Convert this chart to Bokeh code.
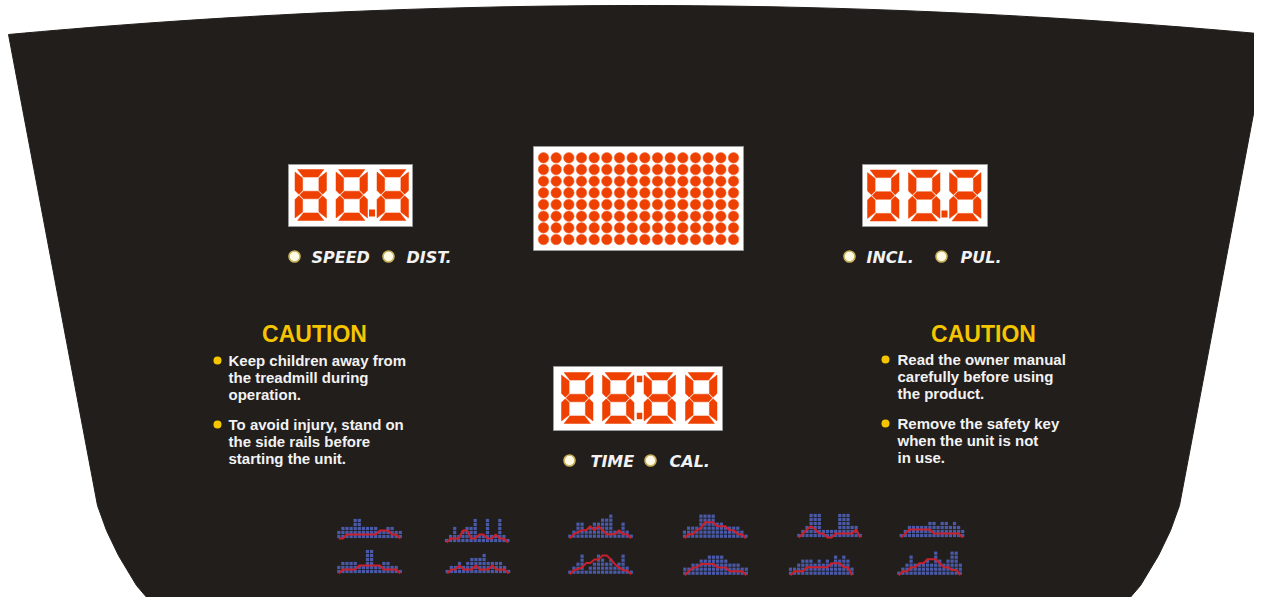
import numpy as np
from bokeh.plotting import figure
from bokeh.models import Range1d
from bokeh.core.properties import value
from bokeh.embed import file_html
from bokeh.resources import INLINE

# ---------------- data ----------------
speed_digits = "88.8"
incl_digits = "88.8"
time_digits = "88:88"
matrix_cols = 16
matrix_rows = 8
speed_labels = ["SPEED", "DIST."]
incl_labels = ["INCL.", "PUL."]
time_labels = ["TIME", "CAL."]
caution_title = "CAUTION"
caution_left = [["Keep children away from", "the treadmill during", "operation."],
                ["To avoid injury, stand on", "the side rails before", "starting the unit."]]
caution_right = [["Read the owner manual", "carefully before using", "the product."],
                 ["Remove the safety key", "when the unit is not", "in use."]]

# program profiles: column heights (blue dots) and red profile level
profile_bars = [
    [2, 3, 3, 3, 5, 5, 3, 3, 3, 3, 2, 2, 3, 3, 2, 2],
    [1, 2, 4, 2, 3, 4, 4, 6, 2, 2, 6, 2, 2, 6, 2, 1],
    [1, 2, 4, 4, 2, 3, 4, 4, 5, 5, 6, 2, 2, 4, 2, 1],
    [2, 3, 3, 3, 6, 6, 6, 6, 4, 4, 3, 3, 3, 3, 2, 1],
    [1, 2, 3, 6, 6, 6, 2, 2, 2, 2, 6, 6, 6, 3, 3, 1],
    [1, 2, 3, 3, 3, 3, 3, 4, 4, 3, 4, 4, 3, 4, 3, 2],
    [2, 3, 3, 3, 3, 2, 2, 6, 6, 2, 2, 3, 3, 2, 2, 1],
    [1, 2, 2, 3, 2, 3, 4, 4, 4, 5, 3, 3, 3, 3, 2, 1],
    [1, 2, 3, 5, 1, 2, 3, 5, 4, 3, 4, 2, 3, 5, 2, 1],
    [2, 2, 3, 3, 4, 4, 5, 5, 5, 5, 4, 3, 3, 3, 2, 2],
    [2, 2, 3, 4, 4, 4, 3, 4, 3, 4, 3, 5, 4, 5, 4, 2],
    [1, 2, 3, 5, 3, 3, 3, 4, 3, 6, 4, 3, 4, 6, 6, 3],
]
profile_lines = [
    [0.5, 0.5, 1.5, 1.5, 1.5, 1.5, 1.5, 1.5, 1.5, 1.5, 2.5, 2.5, 2.5, 1.5, 1.5, 0.5],
    [0.5, 1.5, 1.5, 1.5, 3.5, 3.5, 1.5, 1.5, 2.5, 2.5, 1.5, 1.5, 2.5, 1.5, 1.5, 0.5],
    [0.5, 1.5, 2.0, 2.5, 2.5, 3.5, 2.5, 3.5, 2.5, 1.5, 1.5, 1.5, 2.5, 1.5, 1.5, 0.5],
    [0.5, 1.5, 1.5, 2.5, 3.0, 4.5, 4.5, 4.5, 3.5, 3.5, 3.5, 2.5, 2.5, 1.5, 1.5, 0.5],
    [0.5, 1.5, 2.5, 3.3, 2.5, 1.5, 1.5, 0.5, 0.5, 1.5, 1.5, 1.5, 1.5, 1.5, 2.5, 0.5],
    [0.5, 1.5, 2.5, 2.5, 2.5, 2.5, 2.5, 2.5, 1.5, 1.5, 1.5, 1.5, 1.5, 1.5, 1.5, 0.5],
    [0.5, 1.5, 1.5, 1.5, 1.5, 2.5, 2.5, 2.5, 2.5, 2.5, 2.5, 1.5, 1.5, 1.5, 1.5, 0.5],
    [0.5, 1.5, 1.5, 2.5, 1.5, 1.5, 1.5, 2.5, 1.5, 1.5, 1.5, 2.5, 1.5, 1.5, 1.5, 0.5],
    [0.5, 1.5, 1.8, 2.2, 3.3, 3.3, 4.2, 4.2, 5.2, 5.2, 4.2, 3.0, 2.2, 1.5, 1.4, 0.5],
    [0.5, 1.5, 2.4, 2.5, 3.3, 3.3, 3.3, 3.3, 2.4, 2.4, 2.4, 1.5, 1.5, 1.5, 1.5, 0.5],
    [0.5, 1.5, 1.5, 1.5, 2.5, 2.5, 2.5, 2.5, 2.5, 2.5, 3.5, 3.5, 3.5, 2.5, 2.5, 0.5],
    [0.5, 1.5, 1.5, 2.5, 2.5, 3.5, 3.5, 4.5, 4.5, 4.5, 3.5, 2.5, 2.5, 1.8, 1.8, 0.5],
]

# ---------------- layout / style ----------------
PANEL = "#221e1c"
LED = "#ee4000"
WHITE_TXT = "#f2f2f2"
YELLOW = "#f5c500"

p = figure(width=1254, height=597, x_range=Range1d(0, 1254), y_range=Range1d(597, 0),
           output_backend="svg", toolbar_location=None, min_border=0)
p.axis.visible = False
p.grid.visible = False
p.outline_line_color = None
p.background_fill_color = "white"
p.border_fill_color = "white"

# panel shape
tx = np.linspace(8, 1268, 80)
ty = 5 + 29 * ((tx - 638) / 630) ** 2
left_edge_x = [97, 106, 118, 136, 160]
left_edge_y = [505, 530, 555, 585, 613]
px = list(tx) + [1276 - v for v in left_edge_x] + left_edge_x[::-1]
py = list(ty) + left_edge_y + left_edge_y[::-1]
p.patch(px, py, fill_color=PANEL, line_color=PANEL)


def digit_polys(x0, y0, w=31.5, h=51, t=7.6, g=0.8, b=1.8):
    ym = y0 + h / 2
    ht = t / 2
    left = [
        ([x0 + b + g, x0 + w - b - g, x0 + w - t - g, x0 + t + g], [y0, y0, y0 + t, y0 + t]),
        ([x0, x0 + t, x0 + t, x0 + ht, x0], [y0 + b + g, y0 + t + g, ym - ht - g, ym - g, ym - ht - g]),
        ([x0, x0 + ht, x0 + t, x0 + t, x0], [ym + ht + g, ym + g, ym + ht + g, y0 + h - t - g, y0 + h - b - g]),
        ([x0 + t + g, x0 + w - t - g, x0 + w - b - g, x0 + b + g], [y0 + h - t, y0 + h - t, y0 + h, y0 + h]),
        ([x0 + ht + g, x0 + t + g, x0 + w - t - g, x0 + w - ht - g, x0 + w - t - g, x0 + t + g],
         [ym, ym - ht, ym - ht, ym, ym + ht, ym + ht]),
    ]
    out = list(left)
    for xs, ys in left[1:3]:
        out.append(([2 * x0 + w - v for v in xs], ys))
    return out


def draw_display(box, digit_x, digit_y, dots):
    bx0, by0, bx1, by1 = box
    p.quad(left=[bx0], right=[bx1], top=[by0], bottom=[by1], fill_color="white",
           line_color="#9a9a9a", line_width=1)
    xs_all, ys_all = [], []
    for dx in digit_x:
        for xs, ys in digit_polys(dx, digit_y):
            xs_all.append(xs)
            ys_all.append(ys)
    p.patches(xs_all, ys_all, fill_color=LED, line_color=LED, line_width=0.5)
    for (cx, cy, s) in dots:
        p.rect(x=[cx], y=[cy], width=s, height=s + 1, fill_color=LED, line_color=None)


draw_display((288, 164, 412, 226), [294.5, 335.5, 376.5], 169, [(371.5, 212.5, 6)])
draw_display((862, 164, 987, 226), [867, 908, 949], 169.5, [(944, 213.5, 6)])
draw_display((553, 366, 722, 430), [561, 602, 643.5, 685], 372,
             [(639, 378.5, 5.5), (639, 415.5, 5.5)])

# dot matrix
p.quad(left=[533], right=[743], top=[146], bottom=[250], fill_color="white",
       line_color="#9a9a9a", line_width=1)
mx = np.linspace(543, 733, matrix_cols)
my = np.linspace(157.3, 239, matrix_rows)
gx, gy = np.meshgrid(mx, my)
p.scatter(gx.ravel(), gy.ravel(), size=10.5, fill_color=LED, line_color="#f26a3a", line_width=0.6)

# indicator LEDs + labels
def led(x, y):
    p.scatter([x], [y], size=11, fill_color="#fffbe6", line_color="#c9b25a", line_width=1.6)


label_font = value("DejaVu Sans")
for (dx, tx_, txt, ly) in [(294, 311, speed_labels[0], 256), (388, 406, speed_labels[1], 256),
                           (849, 866, incl_labels[0], 256), (941, 960, incl_labels[1], 256),
                           (569, 590, time_labels[0], 460), (650, 669, time_labels[1], 460)]:
    led(dx, ly)
    p.text(x=[tx_], y=[ly + 0.5], text=[txt], text_font=label_font, text_font_size="16px",
           text_font_style="bold italic", text_color=WHITE_TXT, text_baseline="middle",
           text_align="left")

# caution blocks
caut_font = value("Liberation Sans")
for cx, lines_groups, bx, tx0, y_groups in [
    (314, caution_left, 217, 228, [[360, 377, 394], [424, 441, 458]]),
    (983, caution_right, 885, 897, [[359, 376, 393], [423, 440, 457]]),
]:
    p.text(x=[cx], y=[333], text=[caution_title], text_font=caut_font, text_font_size="23px",
           text_font_style="bold", text_color=YELLOW, text_baseline="middle", text_align="center")
    for grp, ys in zip(lines_groups, y_groups):
        p.scatter([bx], [ys[0]], size=8, fill_color=YELLOW, line_color=None)
        p.text(x=[tx0] * len(grp), y=ys, text=grp, text_font=caut_font, text_font_size="15px",
               text_font_style="bold", text_color=WHITE_TXT, text_baseline="middle",
               text_align="left")

# program profiles
chart_x0 = [338.3, 446.0, 569.3, 684.0, 798.3, 900.7, 338.3, 446.7, 569.3, 684.3, 790.0, 898.3]
chart_base = [536, 540, 535.7, 535.7, 535, 535, 571, 571, 571.7, 572.7, 572.7, 572.7]
DX, DY, SQ = 4.1, 4.0, 3.2
bx_all, by_all = [], []
for bars, x0, base in zip(profile_bars, chart_x0, chart_base):
    for i, hgt in enumerate(bars):
        for r in range(hgt):
            bx_all.append(x0 + i * DX)
            by_all.append(base - r * DY)
p.rect(x=bx_all, y=by_all, width=SQ, height=SQ, fill_color="#4a5aa8", line_color=None)
for lv, x0, base in zip(profile_lines, chart_x0, chart_base):
    xs = [x0 + i * DX for i in range(len(lv))]
    ys = [base - (v - 1) * DY for v in lv]
    p.line(xs, ys, line_color="#c8202c", line_width=2)

open("out.html", "w").write(file_html(p, INLINE))
